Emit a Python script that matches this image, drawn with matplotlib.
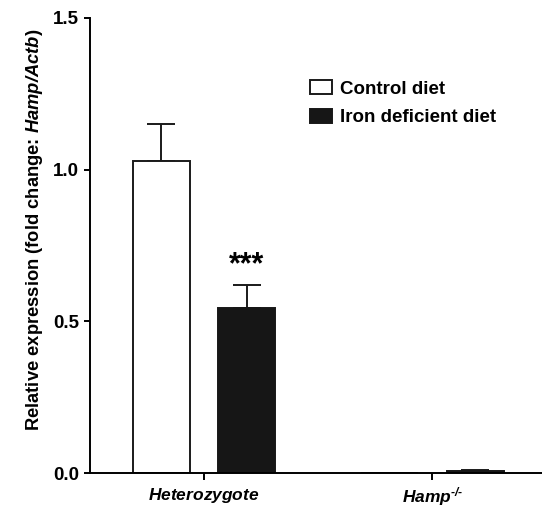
import numpy as np
import matplotlib
matplotlib.use('Agg')
import matplotlib.pyplot as plt

plt.rcParams['font.family'] = ['Liberation Sans', 'DejaVu Sans']
plt.rcParams['font.weight'] = 'bold'
plt.rcParams['mathtext.fontset'] = 'custom'
plt.rcParams['mathtext.bfit'] = 'Liberation Sans:bold:italic'
plt.rcParams['mathtext.it'] = 'Liberation Sans:bold:italic'
plt.rcParams['mathtext.rm'] = 'Liberation Sans:bold'

# data
groups = [r'$\mathbfit{Heterozygote}$', '$\\mathbfit{Hamp}^{\\mathbfit{\u2010/\u2010}}$']
control_mean = [1.03, 0.0]
control_sem = [0.12, 0.0]
iron_def_mean = [0.545, 0.008]
iron_def_sem = [0.075, 0.002]
series_labels = ['Control diet', 'Iron deficient diet']

fig = plt.figure(figsize=(5.42, 5.07), dpi=100)
ax = fig.add_axes([0.166, 0.067, 0.834, 0.8975])

x = np.arange(len(groups))
w = 0.25
off = 0.1875

ax.bar(x - off, control_mean, w, color='white', edgecolor='#1a1a1a', linewidth=1.4,
       label=series_labels[0], zorder=2)
ax.bar(x + off, iron_def_mean, w, color='#161616', edgecolor='#161616', linewidth=1.4,
       label=series_labels[1], zorder=2)

# upper error bars only
ax.errorbar(x[:1] - off, control_mean[:1], yerr=[[0], control_sem[:1]], fmt='none',
            ecolor='#1a1a1a', elinewidth=1.4, capsize=10, capthick=1.4, zorder=1)
ax.errorbar(x + off, iron_def_mean, yerr=[[0, 0], iron_def_sem], fmt='none',
            ecolor='#1a1a1a', elinewidth=1.4, capsize=10, capthick=1.4, zorder=1)

ax.text(x[0] + off, iron_def_mean[0] + iron_def_sem[0] + 0.015, '***', ha='center',
        va='bottom', fontsize=22, fontweight='bold')

ax.set_xlim(-0.5, 1.48)
ax.set_ylim(0, 1.5)
ax.set_yticks([0.0, 0.5, 1.0, 1.5])
ax.set_yticklabels(['0.0', '0.5', '1.0', '1.5'])
ax.set_xticks(x)
ax.set_xticklabels(groups, fontsize=12.5)
ax.tick_params(axis='y', labelsize=13.5, width=1.4, length=4, direction='out', pad=4)
ax.tick_params(axis='x', width=1.4, length=5, direction='out', pad=4)
for lab in ax.get_yticklabels():
    lab.set_fontweight('bold')

ax.spines['top'].set_visible(False)
ax.spines['right'].set_visible(False)
ax.spines['left'].set_linewidth(1.4)
ax.spines['bottom'].set_linewidth(1.4)

ax.set_ylabel(r'Relative expression (fold change: $\mathbfit{Hamp/Actb}$)',
              fontsize=13.2, fontweight='bold')
ax.yaxis.set_label_coords(-0.10, 0.534)

ax.legend(loc='upper left', bbox_to_anchor=(0.45, 0.9), frameon=False,
          handlelength=1.15, handleheight=0.75, handletextpad=0.45, labelspacing=0.6,
          prop={'weight': 'bold', 'size': 13.5})

fig.savefig('out.png', dpi=100)
